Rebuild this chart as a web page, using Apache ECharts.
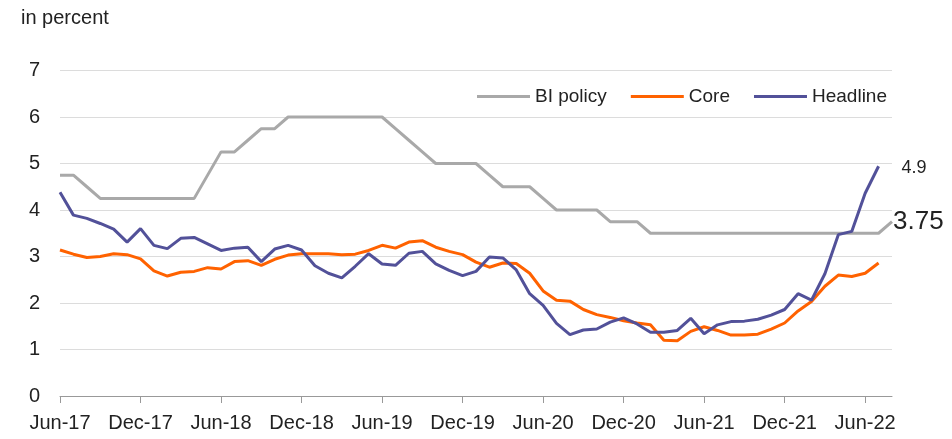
<!DOCTYPE html>
<html>
<head>
<meta charset="utf-8">
<script src="https://cdn.jsdelivr.net/npm/echarts@6/dist/echarts.min.js"></script>
<style>
html,body{margin:0;padding:0;background:#fff;}
#chart{width:952px;height:439px;}
</style>
</head>
<body>
<div id="chart"></div>
<script>
var months = ['Jun-17','Jul-17','Aug-17','Sep-17','Oct-17','Nov-17','Dec-17',
'Jan-18','Feb-18','Mar-18','Apr-18','May-18','Jun-18','Jul-18','Aug-18','Sep-18','Oct-18','Nov-18','Dec-18',
'Jan-19','Feb-19','Mar-19','Apr-19','May-19','Jun-19','Jul-19','Aug-19','Sep-19','Oct-19','Nov-19','Dec-19',
'Jan-20','Feb-20','Mar-20','Apr-20','May-20','Jun-20','Jul-20','Aug-20','Sep-20','Oct-20','Nov-20','Dec-20',
'Jan-21','Feb-21','Mar-21','Apr-21','May-21','Jun-21','Jul-21','Aug-21','Sep-21','Oct-21','Nov-21','Dec-21',
'Jan-22','Feb-22','Mar-22','Apr-22','May-22','Jun-22','Jul-22','Aug-22'];

var biPolicy = [4.75,4.75,4.5,4.25,4.25,4.25,4.25,4.25,4.25,4.25,4.25,4.75,5.25,5.25,5.5,5.75,5.75,
6.0,6.0,6.0,6.0,6.0,6.0,6.0,6.0,5.75,5.5,5.25,5.0,5.0,5.0,5.0,4.75,4.5,4.5,4.5,4.25,4.0,4.0,4.0,4.0,
3.75,3.75,3.75,3.5,3.5,3.5,3.5,3.5,3.5,3.5,3.5,3.5,3.5,3.5,3.5,3.5,3.5,3.5,3.5,3.5,3.5,3.75];

var core = [3.14,3.05,2.98,3.00,3.06,3.04,2.95,2.69,2.58,2.66,2.68,2.76,2.73,2.89,2.91,2.81,2.94,3.03,3.06,
3.06,3.06,3.04,3.05,3.13,3.24,3.18,3.31,3.34,3.20,3.11,3.04,2.88,2.77,2.86,2.85,2.64,2.26,2.06,2.04,1.86,
1.75,1.69,1.62,1.57,1.53,1.20,1.19,1.39,1.49,1.41,1.31,1.31,1.33,1.44,1.57,1.83,2.03,2.36,2.60,2.57,2.64,2.86];

var headline = [4.38,3.89,3.82,3.71,3.59,3.31,3.60,3.24,3.17,3.39,3.41,3.27,3.13,3.18,3.20,2.89,3.16,3.24,3.14,
2.80,2.64,2.54,2.79,3.06,2.84,2.81,3.07,3.11,2.84,2.70,2.59,2.68,2.99,2.97,2.71,2.20,1.95,1.56,1.32,1.42,
1.44,1.59,1.68,1.55,1.37,1.37,1.41,1.67,1.34,1.53,1.60,1.61,1.65,1.74,1.86,2.20,2.06,2.63,3.47,3.54,4.36,4.94];

var endLabels = {bi: '3.75', headline: '4.9'};
var yTicks = [0,1,2,3,4,5,6,7];
var FONT = 'Liberation Sans';
var TXT = '#222';

var chart = echarts.init(document.getElementById('chart'));
chart.setOption({
  animation: false,
  backgroundColor: '#fff',
  textStyle: {fontFamily: FONT, color: TXT},
  title: {text: 'in percent', left: 21, top: 8, padding: 0,
    textStyle: {fontSize: 20, fontWeight: 'normal', color: TXT, fontFamily: FONT}},
  legend: {
    left: 477, top: 87, padding: 0, itemWidth: 53, itemHeight: 3, itemGap: 24,
    icon: 'rect',
    textStyle: {fontSize: 19, color: TXT, fontFamily: FONT},
    data: ['BI policy', 'Core', 'Headline']
  },
  grid: {left: 60, right: 60, top: 70.5, bottom: 43, containLabel: false},
  xAxis: {
    type: 'category', data: months, boundaryGap: false,
    axisLine: {show: true, lineStyle: {color: '#999', width: 1}},
    axisTick: {show: true, interval: 5, length: 7, lineStyle: {color: '#999'}},
    axisLabel: {interval: 5, fontSize: 20, color: TXT, margin: 17, fontFamily: FONT},
    splitLine: {show: false}
  },
  yAxis: {
    type: 'value', min: yTicks[0], max: yTicks[yTicks.length - 1], interval: 1,
    axisLine: {show: false}, axisTick: {show: false},
    axisLabel: {fontSize: 20, color: TXT, margin: 20, fontFamily: FONT},
    splitLine: {lineStyle: {color: '#dcdcdc', width: 1}}
  },
  series: [
    {name: 'BI policy', type: 'line', data: biPolicy,
     showSymbol: false, symbol: 'none', lineStyle: {color: '#a9a9a9', width: 3}, itemStyle: {color: '#a9a9a9'}, z: 2,
     endLabel: {show: true, formatter: endLabels.bi, fontSize: 26, color: TXT, fontFamily: FONT, distance: 1}},
    {name: 'Core', type: 'line', data: core,
     showSymbol: false, symbol: 'none', lineStyle: {color: '#ff6200', width: 3}, itemStyle: {color: '#ff6200'}, z: 3},
    {name: 'Headline', type: 'line', data: headline,
     showSymbol: false, symbol: 'none', lineStyle: {color: '#525199', width: 3}, itemStyle: {color: '#525199'}, z: 4,
     endLabel: {show: true, formatter: endLabels.headline, fontSize: 18, color: TXT, fontFamily: FONT, distance: 23, offset: [0, 2]}}
  ]
});
</script>
</body>
</html>
